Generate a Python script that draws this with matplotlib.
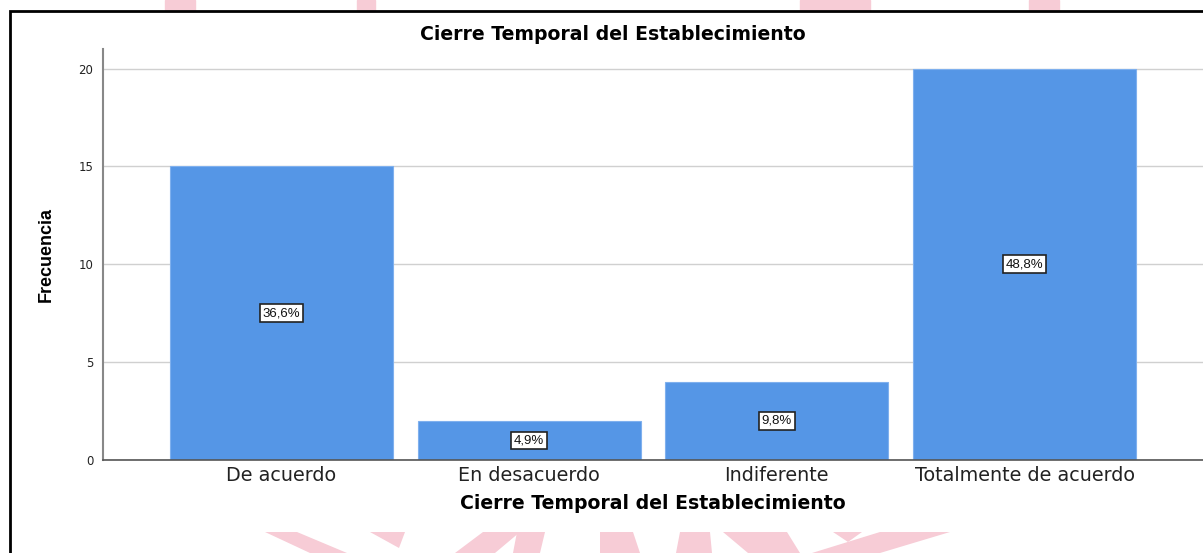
import matplotlib
matplotlib.use("Agg")
import matplotlib.pyplot as plt
from matplotlib.patches import Rectangle, Polygon

categories = ["De acuerdo", "En desacuerdo", "Indiferente", "Totalmente de acuerdo"]
counts = [15, 2, 4, 20]
pct_labels = ["36,6%", "4,9%", "9,8%", "48,8%"]
yticks = [0, 5, 10, 15, 20]
title = "Cierre Temporal del Establecimiento"
xlabel = "Cierre Temporal del Establecimiento"
ylabel = "Frecuencia"

W, H = 1203, 553
fig = plt.figure(figsize=(W / 100, H / 100), dpi=100)
fig.patch.set_facecolor("white")

# watermark shapes (pink)
pink = "#f7ccd6"
def fx(x):
    return x / W
def fy(y):
    return 1 - y / H
for x0, x1 in [(165, 195), (357, 375), (800, 870), (1029, 1059)]:
    fig.patches.append(Rectangle((fx(x0), fy(11)), fx(x1 - x0), 11 / H,
                                 transform=fig.transFigure, color=pink, zorder=-2))
bottom_polys = [
    [(265, 532), (297, 532), (347, 553), (310, 553)],
    [(370, 532), (405, 532), (399, 548)],
    [(483, 532), (520, 532), (495, 553), (455, 553)],
    [(517, 532), (545, 532), (540, 553), (513, 553)],
    [(600, 532), (633, 532), (640, 553), (600, 553)],
    [(680, 532), (710, 532), (712, 553), (676, 553)],
    [(723, 532), (787, 532), (800, 553), (748, 553)],
    [(833, 532), (862, 532), (848, 542)],
    [(880, 532), (950, 532), (880, 553), (812, 553)],
]
for poly in bottom_polys:
    fig.patches.append(Polygon([(fx(a), fy(b)) for a, b in poly], closed=True,
                               transform=fig.transFigure, color=pink, zorder=-2, linewidth=0))

# black frame
fig.patches.append(Rectangle((fx(10), fy(560)), fx(1300), (560 - 11) / H, transform=fig.transFigure,
                             fill=False, edgecolor="black", linewidth=2, zorder=-1))

ax = fig.add_axes([103 / W, (H - 460) / H, 1 - 103 / W, (460 - 49) / H])
ax.set_zorder(2)
ax.set_facecolor("white")
x = range(len(categories))
bar_color = "#5596e6"
ax.bar(x, counts, width=0.9, color=bar_color, edgecolor="#7fb0ee", linewidth=0.8, zorder=2)

for i, (c, lab) in enumerate(zip(counts, pct_labels)):
    ax.text(i, c / 2, lab, ha="center", va="center", fontsize=9.5, color="#111111",
            family="Liberation Sans", zorder=4,
            bbox=dict(boxstyle="square,pad=0.22", facecolor="white", edgecolor="#222222", linewidth=1.2))

ax.set_xlim(-0.72, 3.72)
ax.set_ylim(0, 21)
ax.set_yticks(yticks)
ax.set_yticklabels([str(v) for v in yticks], fontsize=8.5, family="DejaVu Sans")
ax.set_xticks(list(x))
ax.set_xticklabels(categories, fontsize=13.8, family="DejaVu Sans")
ax.tick_params(axis="both", length=0, colors="#222222")
ax.tick_params(axis="y", pad=7)
ax.tick_params(axis="x", pad=4)
ax.yaxis.grid(True, color="#d0d0d0", linewidth=1, zorder=0)
ax.set_axisbelow(True)
for side in ["top", "right"]:
    ax.spines[side].set_visible(False)
ax.spines["left"].set_color("#888888")
ax.spines["left"].set_linewidth(1.5)
ax.spines["bottom"].set_color("#555555")
ax.spines["bottom"].set_linewidth(1.2)

ax.set_xlabel(xlabel, fontsize=13.6, fontweight="bold", family="DejaVu Sans", labelpad=7)
fig.text(fx(613), fy(35), title, ha="center", va="center", fontsize=13.6,
         fontweight="bold", family="DejaVu Sans")
fig.text(fx(46), fy(255), ylabel, ha="center", va="center", rotation=90, fontsize=13,
         fontweight="bold", family=["Liberation Sans Narrow", "Liberation Sans"])

fig.savefig("out.png", dpi=100, facecolor="white")
